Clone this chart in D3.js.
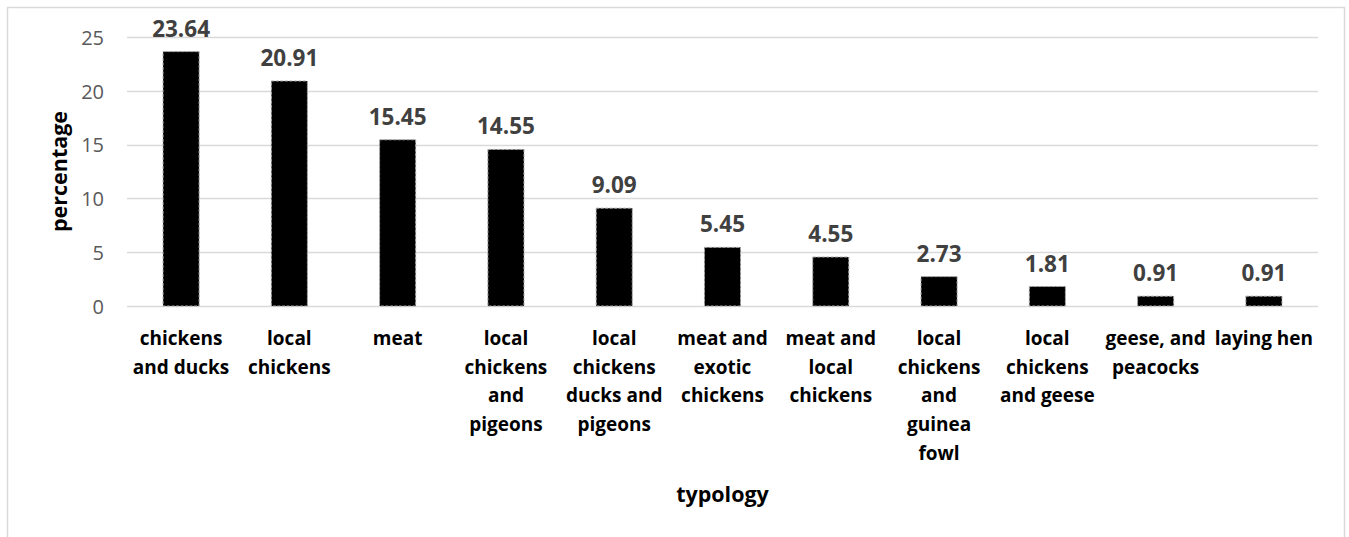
<!DOCTYPE html>
<html>
<head>
<meta charset="utf-8">
<script src="https://cdn.jsdelivr.net/npm/d3@7/dist/d3.min.js"></script>
<style>
  html, body { margin: 0; padding: 0; background: #fff; }
  svg { display: block; font-family: "Open Sans", "Noto Sans", sans-serif; }
</style>
</head>
<body>
<svg id="chart" width="1349" height="537"></svg>
<script>
// Poultry typology shares (%)
const categories = [
  "chickens and ducks", "local chickens", "meat", "local chickens and pigeons",
  "local chickens ducks and pigeons", "meat and exotic chickens", "meat and local chickens",
  "local chickens and guinea fowl", "local chickens and geese", "geese, and peacocks", "laying hen"
];
// Wrapped lines for each category label
const categoryLines = [
  ["chickens", "and ducks"],
  ["local", "chickens"],
  ["meat"],
  ["local", "chickens", "and", "pigeons"],
  ["local", "chickens", "ducks and", "pigeons"],
  ["meat and", "exotic", "chickens"],
  ["meat and", "local", "chickens"],
  ["local", "chickens", "and", "guinea", "fowl"],
  ["local", "chickens", "and geese"],
  ["geese, and", "peacocks"],
  ["laying hen"]
];
const values = [23.64, 20.91, 15.45, 14.55, 9.09, 5.45, 4.55, 2.73, 1.81, 0.91, 0.91];
const yTicks = [0, 5, 10, 15, 20, 25];

const svg = d3.select("#chart");

// Outer chart frame
svg.append("rect")
  .attr("x", 7.5).attr("y", 7.5)
  .attr("width", 1337).attr("height", 545)
  .attr("fill", "none").attr("stroke", "#d9d9d9").attr("stroke-width", 1.5);

const plot = { left: 127, right: 1318, top: 37, bottom: 306 };

const x = d3.scaleBand()
  .domain(categories)
  .range([plot.left, plot.right])
  .paddingInner(0.667)
  .paddingOuter(0.333);

const y = d3.scaleLinear().domain([0, 25]).range([plot.bottom, plot.top]);

// Horizontal gridlines
svg.append("g")
  .selectAll("line")
  .data(yTicks)
  .join("line")
  .attr("x1", plot.left).attr("x2", plot.right)
  .attr("y1", d => Math.round(y(d)) + 0.5).attr("y2", d => Math.round(y(d)) + 0.5)
  .attr("stroke", "#d9d9d9").attr("stroke-width", 1.5);

// Y axis tick labels
const yAxis = d3.axisLeft(y).tickValues(yTicks).tickSize(0).tickPadding(0);
const gy = svg.append("g").attr("transform", `translate(${plot.left - 23},0)`).call(yAxis);
gy.select(".domain").remove();
gy.selectAll("text")
  .attr("fill", "#595959")
  .style("font-size", "20px")
  .style("font-family", "'Open Sans', sans-serif")
  .attr("dy", "0.36em");

// Bars
svg.append("g")
  .selectAll("rect")
  .data(values)
  .join("rect")
  .attr("x", (d, i) => x(categories[i]))
  .attr("y", d => y(d))
  .attr("width", x.bandwidth())
  .attr("height", d => y(0) - y(d))
  .attr("fill", "#000")
  .attr("stroke", "#a6a6a6")
  .attr("stroke-width", 1)
  .attr("stroke-dasharray", "3,1.5");

// Value labels
svg.append("g")
  .selectAll("text")
  .data(values)
  .join("text")
  .attr("x", (d, i) => x(categories[i]) + x.bandwidth() / 2)
  .attr("y", d => y(d) - 15)
  .attr("text-anchor", "middle")
  .attr("fill", "#404040")
  .style("font-size", "22.5px")
  .style("font-weight", "bold")
  .text(d => d.toFixed(2));

// Category labels (wrapped)
const cat = svg.append("g")
  .selectAll("text")
  .data(categories)
  .join("text")
  .attr("text-anchor", "middle")
  .attr("fill", "#000")
  .style("font-size", "19px")
  .style("font-weight", "bold");
cat.each(function (d, i) {
  const cx = x(d) + x.bandwidth() / 2;
  d3.select(this).selectAll("tspan")
    .data(categoryLines[i])
    .join("tspan")
    .attr("x", cx)
    .attr("y", (t, j) => 345 + j * 28.7)
    .text(t => t);
});

// Axis titles
svg.append("text")
  .attr("x", (plot.left + plot.right) / 2)
  .attr("y", 502)
  .attr("text-anchor", "middle")
  .style("font-size", "21.5px")
  .style("font-weight", "bold")
  .text("typology");

svg.append("text")
  .attr("transform", `translate(67,${(plot.top + plot.bottom) / 2}) rotate(-90)`)
  .attr("text-anchor", "middle")
  .style("font-size", "21.5px")
  .style("font-weight", "bold")
  .text("percentage");
</script>
</body>
</html>
